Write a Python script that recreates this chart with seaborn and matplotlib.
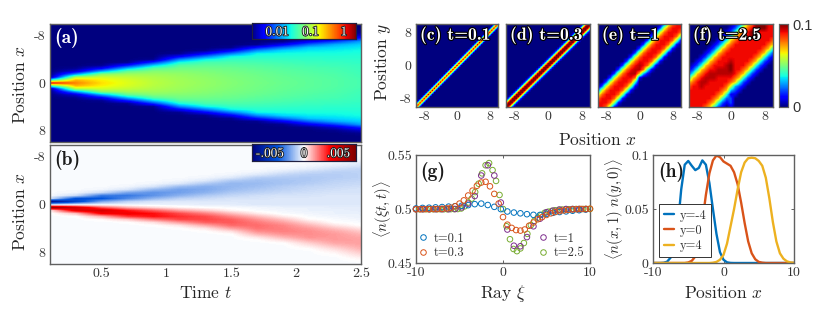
import numpy as np
import pandas as pd
import seaborn as sns
import matplotlib.pyplot as plt
import matplotlib.patheffects as pe
from matplotlib.colors import LogNorm, Normalize, LinearSegmentedColormap

# Panel (a): intensity at |x| = 0, .5, 1 ... for each time, rest is background
times = [0.1, 0.3, 0.5, 0.7, 0.9, 1.1, 1.3, 1.5, 1.7, 1.9, 2.1, 2.3, 2.5]
a_background = 0.0018
a_profiles = [
    [1.3, .03, .002],
    [.45, .3, .1, .012, .003, .002],
    [.22, .19, .13, .07, .014, .004, .002],
    [.15, .14, .115, .085, .05, .016, .005, .002],
    [.11, .106, .098, .085, .068, .045, .018, .006, .002],
    [.09, .088, .084, .078, .068, .058, .045, .026, .011, .004, .002],
    [.078, .077, .074, .07, .064, .057, .049, .04, .024, .01, .004, .002],
    [.068, .067, .065, .062, .058, .054, .048, .042, .034, .024, .01, .004, .002],
    [.06, .059, .058, .056, .053, .049, .045, .04, .035, .03, .024, .012, .005, .002],
    [.054, .053, .052, .05, .048, .045, .042, .038, .034, .03, .026, .02, .01, .004, .002],
    [.049, .049, .048, .046, .044, .042, .039, .036, .033, .03, .027, .023, .018, .009, .004, .002],
    [.045, .045, .044, .043, .041, .04, .037, .035, .032, .03, .027, .024, .02, .015, .007, .003, .002],
    [.04, .04, .039, .038, .037, .036, .035, .033, .032, .03, .028, .026, .023, .019, .014, .006, .003, .002],
]

# Panel (b): difference in 1e-4, going outwards from x=0 up and from x=.5 down
b_background = -1
b_upper = [
    [-10, -70, -6],
    [-5, -45, -40, -8, -2],
    [-3, -20, -38, -30, -8, -2],
    [-3, -10, -26, -30, -20, -6, -2],
    [-3, -6, -16, -24, -24, -16, -6, -2],
    [-3, -5, -10, -17, -21, -21, -15, -5, -2],
    [-4, -5, -8, -12, -17, -19, -18, -12, -5, -2],
    [-4, -5, -6, -9, -12, -15, -16, -16, -12, -5, -2],
    [-5, -5, -6, -7, -10, -12, -14, -15, -14, -11, -5, -2],
    [-5, -5, -5, -6, -8, -10, -11, -13, -13, -12, -9, -5, -2],
    [-5, -5, -5, -6, -7, -8, -9, -11, -12, -12, -11, -8, -4, -2],
    [-5, -5, -5, -5, -6, -7, -8, -9, -10, -11, -11, -10, -7, -4, -2],
    [-5, -5, -5, -5, -6, -6, -7, -8, -9, -10, -10, -10, -9, -6, -4, -2],
]
b_lower = [
    [70, 3, -1],
    [50, 45, 10, 0, -1],
    [25, 50, 40, 12, 1, -1],
    [12, 35, 42, 30, 8, 0, -1],
    [6, 24, 36, 36, 20, 5, 0, -1],
    [2, 14, 27, 31, 28, 15, 4, 0, -1],
    [0, 8, 19, 27, 28, 24, 13, 4, 0, -1],
    [-1, 2, 10, 18, 24, 25, 22, 14, 5, 0, -1],
    [-2, -1, 3, 10, 16, 20, 22, 21, 17, 11, 4, 0, -1],
    [-3, -2, -1, 3, 9, 14, 18, 19, 19, 16, 11, 5, 0, -1],
    [-3, -3, -2, -1, 1, 6, 11, 15, 17, 17, 16, 12, 7, 3, 0, -1],
    [-4, -3, -3, -2, -1, 0, 4, 9, 13, 15, 15, 15, 13, 9, 5, 2, 0, -1],
    [-4, -4, -3, -3, -2, -1, 0, 4, 8, 11, 13, 14, 14, 13, 11, 8, 5, 2, 0],
]

# Panels (c),(d): value against distance from the diagonal, in half units
c_band = [10, 5]
d_band = [10, 10, 6, 1.5]

# Panels (e),(f): rows y=10..-10, columns x=-10..10, in 0.01
e_grid = [
    [0, 0, 0, 0, 0, 0, 0, 0, 0, 0, 0, 0, 0, 0, 0, 0, 2, 6, 8, 9, 9],
    [0, 0, 0, 0, 0, 0, 0, 0, 0, 0, 0, 0, 0, 0, 0, 2, 6, 8, 9, 9, 9],
    [0, 0, 0, 0, 0, 0, 0, 0, 0, 0, 0, 0, 0, 0, 2, 6, 8, 9, 9, 9, 8],
    [0, 0, 0, 0, 0, 0, 0, 0, 0, 0, 0, 0, 0, 2, 6, 8, 9, 9, 9, 8, 5],
    [0, 0, 0, 0, 0, 0, 0, 0, 0, 0, 0, 0, 2, 6, 8, 9, 9, 9, 8, 5, 1],
    [0, 0, 0, 0, 0, 0, 0, 0, 0, 0, 0, 2, 6, 8, 9, 9, 9, 8, 5, 1, 0],
    [0, 0, 0, 0, 0, 0, 0, 0, 0, 0, 2, 6, 8, 9, 9, 9, 8, 5, 1, 0, 0],
    [0, 0, 0, 0, 0, 0, 0, 0, 0, 2, 6, 8, 9, 9, 9, 8, 5, 1, 0, 0, 0],
    [0, 0, 0, 0, 0, 0, 0, 0, 2, 6, 8, 9, 9, 9, 8, 5, 1, 0, 0, 0, 0],
    [0, 0, 0, 0, 0, 0, 0, 2, 6, 8, 9, 9, 9, 8, 5, 1, 0, 0, 0, 0, 0],
    [0, 0, 0, 0, 0, 0, 2, 6, 8, 9, 9.5, 9, 8, 5, 1, 0, 0, 0, 0, 0, 0],
    [0, 0, 0, 0, 0, 2, 6, 8, 9, 9.5, 9.5, 8, 4, 1, 0, 0, 0, 0, 0, 0, 0],
    [0, 0, 0, 0, 2, 6, 8, 9, 9.5, 9.5, 7, 3, 1, 0, 0, 0, 0, 0, 0, 0, 0],
    [0, 0, 0, 2, 6, 8, 9, 9, 9, 8, 1, 0, 0, 0, 0, 0, 0, 0, 0, 0, 0],
    [0, 0, 2, 6, 8, 9, 9, 9, 8, 4, 0, 0, 0, 0, 0, 0, 0, 0, 0, 0, 0],
    [0, 2, 6, 8, 9, 9, 9, 8, 5, 1, 0, 0, 0, 0, 0, 0, 0, 0, 0, 0, 0],
    [2, 6, 8, 9, 9, 9, 8, 5, 1, 0, 0, 0, 0, 0, 0, 0, 0, 0, 0, 0, 0],
    [6, 8, 9, 9, 9, 8, 5, 1, 0, 0, 0, 0, 0, 0, 0, 0, 0, 0, 0, 0, 0],
    [8, 9, 9, 9, 8, 5, 1, 0, 0, 0, 0, 0, 0, 0, 0, 0, 0, 0, 0, 0, 0],
    [9, 9, 9, 8, 5, 1, 0, 0, 0, 0, 0, 0, 0, 0, 0, 0, 0, 0, 0, 0, 0],
    [9, 9, 8, 5, 1, 0, 0, 0, 0, 0, 0, 0, 0, 0, 0, 0, 0, 0, 0, 0, 0],
]
f_grid = [
    [0, 0, 0, 0, 0, 0, 0, 0, 0, 0, 0, 1, 2, 4, 7, 8, 10, 10, 10, 9, 9],
    [0, 0, 0, 0, 0, 0, 0, 0, 0, 0, 1, 2, 4, 7, 8, 9, 10, 10, 10, 9, 9],
    [0, 0, 0, 0, 0, 0, 0, 0, 0, 1, 2, 4, 7, 8, 9, 10, 10, 9, 9, 9, 9],
    [0, 0, 0, 0, 0, 0, 0, 0, 1, 2, 4, 7, 8, 9, 9, 10, 9, 9, 9, 9, 9],
    [0, 0, 0, 0, 0, 0, 0, 1, 2, 4, 7, 8, 9, 9, 9, 9, 9, 9, 9, 9, 8],
    [0, 0, 0, 0, 0, 0, 1, 2, 4, 7, 8, 9, 9, 9, 9, 9, 9, 9, 9, 8, 7],
    [0, 0, 0, 0, 0, 1, 2, 4, 7, 8, 9, 9, 9, 9, 9, 9, 9, 9, 8, 7, 4],
    [0, 0, 0, 0, 1, 2, 4, 7, 8, 9, 9, 9, 9, 9, 9, 9, 9, 8, 7, 4, 2],
    [0, 0, 0, 1, 2, 4, 7, 8, 9, 9, 9, 9, 9, 9, 9, 9, 8, 7, 4, 2, 1],
    [0, 0, 1, 2, 4, 7, 8, 9, 9, 9, 9.5, 9, 9, 9, 9, 8, 7, 4, 2, 1, 0],
    [0, 1, 2, 4, 7, 8, 9, 9, 9, 9.5, 10, 9, 9, 9, 8, 7, 4, 2, 1, 0, 0],
    [1, 2, 4, 7, 8, 9, 9, 9.5, 9.5, 9.5, 10, 9, 9, 8, 7, 4, 2, 1, 0, 0, 0],
    [2, 4, 7, 8, 9, 9.5, 9.5, 9.5, 9.5, 9.5, 9.5, 9, 8, 7, 4, 2, 1, 0, 0, 0, 0],
    [4, 7, 8, 9, 9.5, 9.5, 9.5, 9, 9, 9, 9, 8, 7, 4, 2, 1, 0, 0, 0, 0, 0],
    [7, 8, 9, 9.5, 9.5, 9, 9, 9, 9, 9, 8, 7, 4, 2, 1, 0, 0, 0, 0, 0, 0],
    [8, 9, 9, 9.5, 9, 9, 9, 9, 9, 8, 6, 3, 2, 1, 0, 0, 0, 0, 0, 0, 0],
    [9, 9, 9, 9, 9, 9, 9, 9, 8, 7, 3, 2, 1, 0, 0, 0, 0, 0, 0, 0, 0],
    [9, 9, 9, 9, 9, 9, 9, 8, 7, 4, 1, 1, 0, 0, 0, 0, 0, 0, 0, 0, 0],
    [9, 9, 9, 9, 9, 9, 8, 7, 4, 2, 2, 0, 0, 0, 0, 0, 0, 0, 0, 0, 0],
    [9, 9, 9, 9, 9, 8, 7, 4, 2, 1, 2, 0, 0, 0, 0, 0, 0, 0, 0, 0, 0],
    [9, 9, 9, 9, 8, 7, 4, 2, 1, 0, 1, 0, 0, 0, 0, 0, 0, 0, 0, 0, 0],
]

# Panel (g): each series has its own ray sampling
g_xi_coarse = [-10, -9.25, -8.5, -7.75, -7, -6.25, -5.5, -4.75, -4, -3.25, -2.5, -1.75, -1, -.25,
               .5, 1.25, 2, 2.75, 3.5, 4.25, 5, 5.75, 6.5, 7.25, 8, 8.75, 9.5]
g_t01 = [.5005, .501, .5012, .5015, .5018, .5022, .5026, .503, .5036, .5045, .505, .5037, .502, .4999,
         .4977, .4967, .496, .4952, .4946, .4945, .4955, .4965, .4972, .4978, .4984, .4989, .4995]
g_t1 = [.4998, .4998, .4998, .4998, .4998, .4998, .5, .5015, .505, .512, .531, .5405, .531, .506,
        .481, .466, .4655, .474, .484, .491, .497, .4985, .4995, .5, .5, .5, .5]
g_xi_t03 = [-10, -9.5, -9, -8.5, -8, -7.5, -7, -6.5, -6, -5.5, -5, -4.5, -4, -3.5, -3, -2.5, -2, -1.5, -1, -.5, 0,
            .5, 1, 1.5, 2, 2.5, 3, 3.5, 4, 4.5, 5, 5.5, 6, 6.5, 7, 7.5, 8, 8.5, 9, 9.5, 10]
g_t03 = [.4998, .4998, .4999, .4999, .5, .5, .5002, .5006, .5012, .5025, .505, .508, .5125, .517, .5215,
         .5245, .5252, .521, .514, .505, .4925, .4855, .4825, .4805, .48, .481, .4845, .4875, .4905, .4925,
         .4945, .496, .4972, .498, .4987, .4992, .4996, .4998, .5, .5, .5003]
g_xi_t25 = [-10, -9.6, -9.2, -8.8, -8.4, -8, -7.6, -7.2, -6.8, -6.4, -6, -5.6, -5.2, -4.8, -4.4, -4, -3.6, -3.2,
            -2.8, -2.4, -2, -1.6, -1.2, -.8, -.4, 0, .4, .8, 1.2, 1.6, 2, 2.4, 2.8, 3.2, 3.6, 4, 4.4, 4.8,
            5.2, 5.6, 6, 6.4, 6.8, 7.2, 7.6, 8, 8.4, 8.8, 9.2, 9.6, 10]
g_t25 = [.4998, .4998, .4998, .4998, .4998, .4998, .4998, .4998, .4998, .4998, .4999, .4999, .5, .5005, .5025,
         .506, .5096, .5157, .5234, .533, .5405, .5425, .536, .526, .513, .5, .484, .472, .463, .461, .4635,
         .4685, .477, .485, .489, .492, .4945, .4965, .4975, .4982, .4988, .4992, .4995, .4997, .4998, .4999,
         .5, .5, .5, .5, .5]

# Panel (h)
h_x = [-10, -9.5, -9, -8.5, -8, -7.5, -7, -6.5, -6, -5.5, -5, -4.5, -4, -3.5, -3, -2.5, -2, -1.5, -1, -.5, 0,
       .5, 1, 1.5, 2, 2.5, 3, 3.5, 4, 4.5, 5, 5.5, 6, 6.5, 7, 7.5, 8, 8.5, 9, 9.5, 10]
h_ym4 = [0, 0, 0, .0002, .0012, .005, .014, .033, .068, .091, .0945, .09, .086, .088, .095, .091, .074, .05, .027,
         .01, .003, .0006, .0001, 0, 0, 0, 0, 0, 0, 0, 0, 0, 0, 0, 0, 0, 0, 0, 0, 0, 0]
h_y0 = [0, 0, 0, 0, 0, 0, 0, 0, 0, 0, .0005, .002, .006, .017, .038, .063, .083, .095, .0995, .098, .094,
        .092, .09, .084, .073, .056, .037, .02, .009, .0035, .001, .0003, 0, 0, 0, 0, 0, 0, 0, 0, 0]
h_y4 = [0, 0, 0, 0, 0, 0, 0, 0, 0, 0, 0, 0, 0, 0, 0, 0, 0, .0003, .001, .003, .0075,
        .018, .034, .05, .068, .084, .093, .097, .0975, .097, .0945, .09, .079, .06, .038, .02, .009, .004,
        .0015, .0005, .0002]

W, H = 831, 315
sns.set_theme(style='white', rc={'axes.unicode_minus': False, 'mathtext.fontset': 'cm',
                                 'text.color': '#262626', 'axes.labelcolor': '#262626'})
plt.rcParams['font.family'] = ['cmr10', 'DejaVu Sans']
EDGE = '#606060'
TICK = 10
LAB = 12.5
MATH = 10.5
halo = [pe.withStroke(linewidth=1.6, foreground='black')]


def px_axes(x0, y0, x1, y1):
    return fig.add_axes([x0 / W, 1 - y1 / H, (x1 - x0) / W, (y1 - y0) / H])


def finish(ax, xt, xl, yt, yl):
    ax.set_xticks(xt, xl)
    ax.set_yticks(yt, yl)
    ax.tick_params(axis='both', which='major', direction='in', length=2.2, width=.7, color=EDGE,
                   labelsize=TICK, labelcolor='#333333', top=True, right=True, bottom=True, left=True,
                   pad=3)
    for s in ax.spines.values():
        s.set_visible(True)
        s.set_color(EDGE)
        s.set_linewidth(1.0)


def field(ax, data, cmap, img_data=None, img_norm=None, **kw):
    # heatmap gives the axes and colorbar, the image on top smooths the cells
    sns.heatmap(data, ax=ax, cmap=cmap, xticklabels=False, yticklabels=False, **kw)
    ny, nx = data.shape
    if img_data is None:
        img_data = data
    ax.imshow(img_data, cmap=cmap, norm=img_norm, interpolation='bilinear', interpolation_stage='data',
              extent=(0, nx, ny, 0), aspect='auto', zorder=2)
    ax.set_xlim(.5, nx - .5)
    ax.set_ylim(ny - .5, .5)


def label(x, y, s, size=LAB, **kw):
    fig.text(x / W, 1 - y / H, s, ha='center', va='center', fontsize=size, **kw)


def panel_tag(x, y, s, size=14, color='white', effects=None):
    t = fig.text(x / W, 1 - y / H, s, family='cmb10', fontsize=size, color=color, va='center', zorder=6)
    if effects:
        t.set_path_effects(effects)


def inset_cbar(cax):
    for s in cax.spines.values():
        s.set_visible(True)
        s.set_color('#202040')
        s.set_linewidth(.8)
    cax.xaxis.set_ticks_position('top')
    cax.tick_params(axis='x', which='both', direction='in', color='#202020', labeltop=False, labelbottom=False)
    cax.tick_params(axis='x', which='major', length=3, width=.6)
    cax.tick_params(axis='x', which='minor', length=1.6, width=.4)
    cax.tick_params(axis='y', left=False, right=False)


def bar_text(cax, v, s):
    cax.text(v, .42, s, transform=cax.get_xaxis_transform(), ha='center', va='center', fontsize=9.5,
             color='white', path_effects=[pe.withStroke(linewidth=1.3, foreground='#202020')])


fig = plt.figure(figsize=(W / 100, H / 100), dpi=100)

# fans: fill the x=-10..10 by 0.5 grid from the outward lists
fan_a = np.full((41, len(times)), a_background, dtype=float)
fan_b = np.full((41, len(times)), b_background * 1e-4, dtype=float)
for j in range(len(times)):
    for k, v in enumerate(a_profiles[j]):
        fan_a[20 + k, j] = v
        fan_a[20 - k, j] = v
    for k, v in enumerate(b_upper[j]):
        fan_b[20 - k, j] = v * 1e-4
    for k, v in enumerate(b_lower[j]):
        fan_b[21 + k, j] = v * 1e-4

t_ticks = [(t - .1) / .2 + .5 for t in [.5, 1, 1.5, 2, 2.5]]
x_ticks = [(x + 10) * 2 + .5 for x in [-8, 0, 8]]
pos_labels = ['-8', '0', '8']

ax_a = px_axes(50, 24, 361, 142)
cax_a = px_axes(252, 23, 356, 39)
field(ax_a, fan_a, 'jet', img_data=np.log10(fan_a), img_norm=Normalize(-2.75, .36),
      norm=LogNorm(vmin=10 ** -2.75, vmax=10 ** .36), cbar_ax=cax_a, cbar_kws={'orientation': 'horizontal'})
finish(ax_a, t_ticks, [], x_ticks, pos_labels)
cax_a.set_xticks([.01, .1, 1])
inset_cbar(cax_a)
for v, s in zip([.01, .1, 1], ['0.01', '0.1', '1']):
    bar_text(cax_a, v, s)
panel_tag(54, 38, '(a)')

div_cmap = LinearSegmentedColormap.from_list('div', [(0, '#00007f'), (.25, '#0055dd'), (.5, '#ffffff'),
                                                     (.75, '#ff0000'), (1, '#7f0000')])
ax_b = px_axes(50, 145, 361, 264)
cax_b = px_axes(252, 144, 356, 161)
field(ax_b, fan_b, div_cmap, img_norm=Normalize(-.0076, .0076), vmin=-.0076, vmax=.0076, cbar_ax=cax_b,
      cbar_kws={'orientation': 'horizontal'})
finish(ax_b, t_ticks, ['0.5', '1', '1.5', '2', '2.5'], x_ticks, pos_labels)
cax_b.set_xticks([-.005, 0, .005])
inset_cbar(cax_b)
for v, s in zip([-.005, 0, .005], ['-.005', '0', '.005']):
    bar_text(cax_b, v, s)
panel_tag(54, 160, '(b)', color='#1a1a1a')

label(20, 85, r'Position $x$', rotation=90)
label(20, 212, r'Position $x$', rotation=90)
label(206, 293, r'Time $t$')

# correlation maps
grid_c = np.flipud(sum(v * (np.eye(41, k=k) + (np.eye(41, k=-k) if k else 0)) for k, v in enumerate(c_band))) / 100
grid_d = np.flipud(sum(v * (np.eye(41, k=k) + (np.eye(41, k=-k) if k else 0)) for k, v in enumerate(d_band))) / 100
maps = [(grid_c, 416, 498, '(c) t=0.1', 420), (grid_d, 506, 590, '(d) t=0.3', 510),
        (np.array(e_grid) / 100, 598, 681, '(e) t=1', 602), (np.array(f_grid) / 100, 689, 773, '(f) t=2.5', 693)]
cax_f = px_axes(779, 24, 788, 107)
for i, (grid, x0, x1, tag, tx) in enumerate(maps):
    ax = px_axes(x0, 24, x1, 107)
    field(ax, grid, 'jet', img_norm=Normalize(0, .1), vmin=0, vmax=.1, cbar=i == 3,
          cbar_ax=cax_f if i == 3 else None)
    per = (grid.shape[0] - 1) / 20
    finish(ax, [(x + 10) * per + .5 for x in [-8, 0, 8]], pos_labels,
           [(10 - y) * per + .5 for y in [8, 0, -8]], ['8', '0', '-8'] if i == 0 else [])
    panel_tag(tx, 35, tag, size=12.7, effects=halo)
cax_f.set_yticks([0, .1], ['0', '0.1'], family='Liberation Sans', fontsize=10.5, color='#333333')
cax_f.tick_params(axis='y', length=0, pad=3, right=True)
for s in cax_f.spines.values():
    s.set_visible(True)
    s.set_color(EDGE)
    s.set_linewidth(.8)
label(383, 62, r'Position $y$', rotation=90)
label(597, 140, r'Position $x$')

# panel g
ray = pd.concat([
    pd.DataFrame({'xi': g_xi_t25, 'n': g_t25, 'series': 't=2.5'}),
    pd.DataFrame({'xi': g_xi_coarse, 'n': g_t01, 'series': 't=0.1'}),
    pd.DataFrame({'xi': g_xi_coarse, 'n': g_t1, 'series': 't=1'}),
    pd.DataFrame({'xi': g_xi_t03, 'n': g_t03, 'series': 't=0.3'}),
])
ray_colors = {'t=0.1': '#0072BD', 't=0.3': '#D95319', 't=1': '#7E2F8E', 't=2.5': '#77AC30'}
ax_g = px_axes(416, 155, 590, 263)
sns.scatterplot(data=ray, x='xi', y='n', hue='series', palette=ray_colors, ax=ax_g, s=16, marker='o',
                edgecolor=None, linewidth=.7, legend=False, clip_on=False, zorder=3)
coll = ax_g.collections[0]
coll.set_edgecolors(coll.get_facecolors())
coll.set_facecolors('none')
ax_g.set(xlim=(-10, 10), ylim=(.45, .55), xlabel=None, ylabel=None)
finish(ax_g, [-10, 0, 10], ['-10', '0', '10'], [.45, .5, .55], ['0.45', '0.5', '0.55'])
hs = [plt.Line2D([], [], ls='', marker='o', ms=4, mfc='none', mew=.7, color=ray_colors[k], label=k)
      for k in ['t=0.1', 't=0.3', 't=1', 't=2.5']]
ax_g.legend(handles=hs, ncol=2, frameon=False, fontsize=9, loc='lower left', bbox_to_anchor=(-.08, -.07),
            columnspacing=5.6, handletextpad=.1, labelspacing=.2, handlelength=1.5, labelcolor='#333333')
panel_tag(420, 172, '(g)', color='#1a1a1a')
label(383, 209, r'$\langle n(\xi t,t)\rangle$', size=MATH, rotation=90)
label(503, 293, r'Ray $\xi$')

# panel h
overlap = pd.concat([
    pd.DataFrame({'x': h_x, 'v': h_ym4, 'y0': 'y=-4'}),
    pd.DataFrame({'x': h_x, 'v': h_y0, 'y0': 'y=0'}),
    pd.DataFrame({'x': h_x, 'v': h_y4, 'y0': 'y=4'}),
])
ax_h = px_axes(653, 155, 794, 263)
sns.lineplot(data=overlap, x='x', y='v', hue='y0', palette=['#0072BD', '#D95319', '#EDB120'], ax=ax_h,
             linewidth=1.7, clip_on=True)
ax_h.set(xlim=(-10, 10), ylim=(0, .1), xlabel=None, ylabel=None)
finish(ax_h, [-10, 0, 10], ['-10', '0', '10'], [0, .05, .1], ['0', '0.05', '0.1'])
leg = ax_h.legend(title=None, loc='lower left', bbox_to_anchor=(.045, .055), fontsize=9, fancybox=False,
                  framealpha=1, edgecolor='#333333', borderaxespad=0, handlelength=.8, handletextpad=.4,
                  labelspacing=.25, borderpad=.4, labelcolor='#333333')
leg.get_frame().set_linewidth(.7)
panel_tag(658, 172, '(h)', color='#1a1a1a')
label(615, 209, r'$\langle n(x,1)\ n(y,0)\rangle$', size=MATH, rotation=90)
label(723, 293, r'Position $x$')

fig.savefig('out.png', dpi=100)
